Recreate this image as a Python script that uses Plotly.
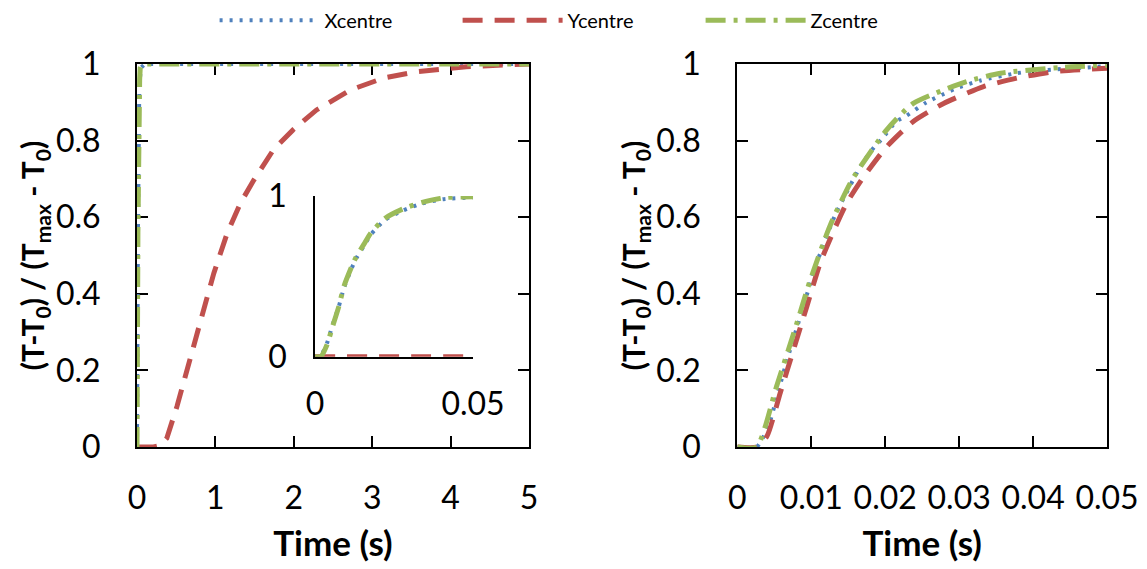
import plotly.graph_objects as go

# ---------------- data ----------------
# Case 1 (left panel + inset), time in s
t1_x = [0, 0.0016, 0.0037, 0.0056, 0.0075, 0.0092, 0.0116, 0.013, 0.0155, 0.0177, 0.0221,
        0.0279, 0.0339, 0.0405, 0.05, 0.1, 0.5, 1.0, 2.0, 3.0, 4.0, 5.0]
x1_vals = [0, 0, 0.079, 0.20, 0.31, 0.43, 0.55, 0.61, 0.69, 0.76, 0.85,
           0.91, 0.954, 0.98, 0.99, 1.0, 1.0, 1.0, 1.0, 1.0, 1.0, 1.0]
t1_z = [0, 0.0018, 0.0037, 0.0056, 0.0075, 0.0092, 0.0116, 0.013, 0.0155, 0.0177, 0.0221,
        0.0279, 0.0339, 0.0413, 0.05, 0.1, 0.5, 1.0, 2.0, 3.0, 4.0, 5.0]
z1_vals = [0, 0, 0.07, 0.19, 0.31, 0.44, 0.56, 0.62, 0.70, 0.77, 0.86,
           0.92, 0.96, 0.99, 0.995, 1.0, 1.0, 1.0, 1.0, 1.0, 1.0, 1.0]
t1_y = [0, 0.1, 0.21, 0.3, 0.38, 0.51, 0.68, 0.81, 0.98, 1.15, 1.32, 1.49, 1.74, 1.99,
        2.29, 2.72, 3.14, 3.57, 4.2, 5.0]
y1_vals = [0, 0, 0, 0.004, 0.023, 0.106, 0.228, 0.323, 0.454, 0.558, 0.637, 0.697, 0.776,
           0.828, 0.88, 0.932, 0.963, 0.98, 0.993, 1.0]

# Case 2 (right panel)
t2_x = [0, 0.0026, 0.0042, 0.0056, 0.0070, 0.0092, 0.0104, 0.0114, 0.0131, 0.0145, 0.0167,
        0.0185, 0.0195, 0.0215, 0.0228, 0.0256, 0.0284, 0.0298, 0.0329, 0.0378, 0.041,
        0.0473, 0.05]
x2_vals = [0, 0, 0.054, 0.15, 0.245, 0.384, 0.463, 0.515, 0.60, 0.654, 0.734,
           0.783, 0.803, 0.85, 0.864, 0.90, 0.926, 0.938, 0.957, 0.976, 0.983,
           0.991, 0.995]
t2_z = [0, 0.0026, 0.0053, 0.008, 0.0098, 0.0125, 0.0155, 0.0202, 0.0238, 0.031, 0.0356,
        0.0437, 0.05]
z2_vals = [0, 0, 0.158, 0.32, 0.432, 0.576, 0.697, 0.828, 0.897, 0.954, 0.976,
           0.991, 0.997]
t2_y = [0, 0.0026, 0.004, 0.0058, 0.0076, 0.0094, 0.0112, 0.013, 0.0148, 0.0171, 0.0202,
        0.0238, 0.0279, 0.0333, 0.0378, 0.0428, 0.05]
y2_vals = [0, 0, 0.028, 0.141, 0.254, 0.367, 0.48, 0.563, 0.637, 0.706, 0.784,
           0.85, 0.897, 0.941, 0.963, 0.98, 0.989]

series_names = ["Xcentre", "Ycentre", "Zcentre"]
left_ticks = [0, 1, 2, 3, 4, 5]
right_ticks = [0, 0.01, 0.02, 0.03, 0.04, 0.05]
right_ticktext = ["0", "0.01", "0.02", "0.03", "0.04", "0.05"]
y_ticks = [0, 0.2, 0.4, 0.6, 0.8, 1]
y_ticktext = ["0", "0.2", "0.4", "0.6", "0.8", "1"]
inset_xticks = [0, 0.05]
inset_yticks = [0, 1]

# ---------------- styles ----------------
BLUE = "#4F81BD"
RED = "#C0504D"
GREEN = "#9BBB59"
FONT = "Lato"
styles = {
    "Xcentre": dict(color=BLUE, width=4, dash="3px,7px"),
    "Ycentre": dict(color=RED, width=5, dash="20px,12px"),
    "Zcentre": dict(color=GREEN, width=5, dash="20px,8px,4px,8px"),
}

fig = go.Figure()

case1 = {"Xcentre": (t1_x, x1_vals), "Ycentre": (t1_y, y1_vals), "Zcentre": (t1_z, z1_vals)}
case2 = {"Xcentre": (t2_x, x2_vals), "Ycentre": (t2_y, y2_vals), "Zcentre": (t2_z, z2_vals)}

for name in series_names:
    tx, vy = case1[name]
    fig.add_trace(go.Scatter(x=tx, y=vy, mode="lines", name=name, legendgroup=name,
                             line=dict(**styles[name], shape="linear"),
                             xaxis="x", yaxis="y", showlegend=True))
for name in series_names:
    tx, vy = case2[name]
    fig.add_trace(go.Scatter(x=tx, y=vy, mode="lines", name=name, legendgroup=name,
                             line=dict(**styles[name], shape="spline", smoothing=0.6),
                             xaxis="x2", yaxis="y2", showlegend=False))
for name in series_names:
    tx, vy = case1[name]
    fig.add_trace(go.Scatter(x=tx, y=vy, mode="lines", name=name, legendgroup=name,
                             line=dict(**styles[name], shape="spline", smoothing=0.6),
                             xaxis="x3", yaxis="y3", showlegend=False))

tickfont = dict(family=FONT, size=32, color="black")
xtitlefont = dict(family=FONT, size=35, color="black")
ytitlefont = dict(family=FONT, size=30, color="black")
ytitle = "<b>(T-T<sub>0</sub>) / (T<sub>max</sub> - T<sub>0</sub>)</b>"

main_axis = dict(showgrid=False, zeroline=False, showline=True, linecolor="black",
                 linewidth=2, mirror="allticks", ticks="inside", ticklen=11,
                 tickwidth=2, tickcolor="black", tickfont=tickfont, layer="below traces")

fig.update_layout(
    width=1147, height=569,
    margin=dict(l=137, r=40, t=64, b=122, autoexpand=False),
    paper_bgcolor="white", plot_bgcolor="white",
    font=dict(family=FONT, color="black"),
    showlegend=True,
    legend=dict(orientation="h", xref="paper", yref="paper",
                x=0.08, y=1.165, xanchor="left", yanchor="top",
                font=dict(family=FONT, size=20, color="black"),
                itemwidth=100, entrywidth=128, bgcolor="rgba(0,0,0,0)"),
    xaxis=dict(main_axis, domain=[0, 0.4041], range=[0, 5], tickvals=left_ticks,
               ticklabelstandoff=22, anchor="y",
               title=dict(text="<b>Time (s)</b>", font=xtitlefont, standoff=16)),
    yaxis=dict(main_axis, domain=[0, 1], range=[0, 1], tickvals=y_ticks,
               ticktext=y_ticktext, ticklabelstandoff=28, anchor="x",
               title=dict(text=ytitle, font=ytitlefont, standoff=2)),
    xaxis2=dict(main_axis, domain=[0.6189, 1], range=[0, 0.05], tickvals=right_ticks,
                ticktext=right_ticktext, ticklabelstandoff=22, anchor="y2",
                title=dict(text="<b>Time (s)</b>", font=xtitlefont, standoff=16)),
    yaxis2=dict(main_axis, domain=[0, 1], range=[0, 1], tickvals=y_ticks,
                ticktext=y_ticktext, ticklabelstandoff=28, anchor="x2",
                title=dict(text=ytitle, font=ytitlefont, standoff=2)),
    xaxis3=dict(showgrid=False, zeroline=False, showline=True, linecolor="black",
                linewidth=1.5, ticks="inside", ticklen=8, tickwidth=1.5,
                tickcolor="black", tickfont=tickfont, domain=[0.1835, 0.3464],
                range=[0, 0.05], tickvals=inset_xticks, ticktext=["0", "0.05"],
                ticklabelstandoff=18, anchor="y3", layer="below traces"),
    yaxis3=dict(showgrid=False, zeroline=False, showline=True, linecolor="black",
                linewidth=1.5, ticks="inside", ticklen=8, tickwidth=1.5,
                tickcolor="black", tickfont=tickfont, domain=[0.2358, 0.6554],
                range=[0, 1], tickvals=inset_yticks, ticktext=["0", "1"],
                ticklabelstandoff=20, anchor="x3", layer="below traces"),
)

fig.write_html("out.html")
